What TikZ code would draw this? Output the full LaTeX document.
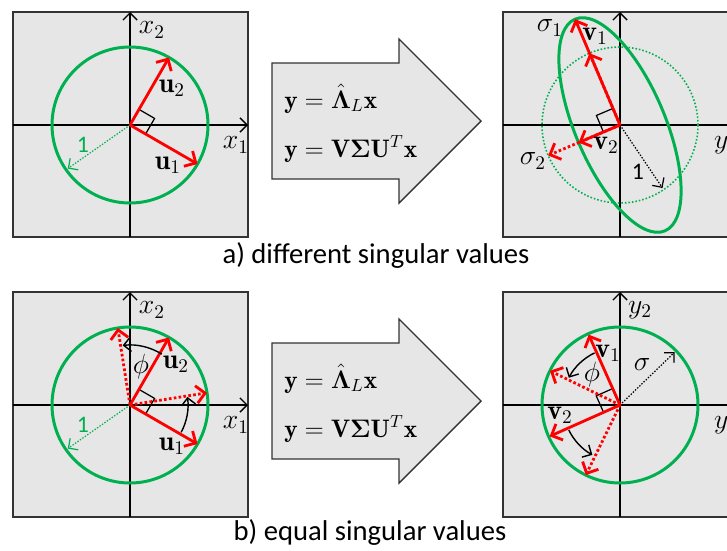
\documentclass[tikz,border=0pt]{standalone}
\usepackage{amsmath}
\usepackage{fontspec}
\usepackage{tikz}
\usetikzlibrary{arrows.meta}
\newfontfamily\capfont{Carlito}
\definecolor{Frame}{HTML}{333333}
\definecolor{Pane}{HTML}{E6E6E6}
\definecolor{Grn}{HTML}{00B050}
\definecolor{Rd}{HTML}{FF0000}
\tikzset{
  panel/.style={draw=Frame,fill=Pane,line width=1.1pt},
  axis/.style={-{Straight Barb[length=4pt,width=8pt]},draw=black,line width=0.8pt},
  ring/.style={draw=Grn,line width=1.7pt},
  ringdot/.style={draw=Grn,line width=0.9pt,dash pattern=on 0.9pt off 1.1pt},
  vec/.style={-{Straight Barb[length=5pt,width=10pt]},draw=Rd,line width=1.6pt},
  vecdot/.style={vec,dash pattern=on 1.5pt off 1.3pt},
  unitvec/.style={-{Straight Barb[length=4pt,width=8pt]},line width=0.7pt,dash pattern=on 0.8pt off 0.9pt},
  turn/.style={-{Straight Barb[length=4pt,width=8pt]},draw=black,line width=0.8pt},
  rightang/.style={draw=black,line width=0.7pt},
  lbl/.style={inner sep=0pt,font=\Large,scale=1.1,transform shape},
  numlbl/.style={inner sep=0pt,font=\capfont\fontsize{13.5}{15}\selectfont},
  bigarrow/.style={draw=Frame,fill=Pane,line width=0.8pt},
  eq/.style={anchor=base west,inner sep=0pt,font=\Large},
  caption/.style={font=\capfont\fontsize{16.3}{19}\selectfont}
}
\begin{document}
\begin{tikzpicture}[x=0.02cm,y=0.02cm]
\useasboundingbox (0,0) rectangle (727,-551);
\clip (0,0) rectangle (727,-551);
% frames and axes
\foreach \ox/\oy in {130/-125,620/-125,130/-405,620/-405}{
  \filldraw[panel] (\ox-117,\oy+113) rectangle (\ox+118,\oy-112);
  \draw[axis] (\ox-117,\oy) -- (\ox+118,\oy);
  \draw[axis] (\ox,\oy-112) -- (\ox,\oy+113);
}
% mapping arrows
\foreach \oy/\nm in {0/a,-280/b}{
  \begin{scope}[shift={(0,\oy)}]
    \filldraw[bigarrow] (272,-63) -- (399,-63) -- (399,-39) -- (481,-121)
      -- (399,-203) -- (399,-179) -- (272,-179) -- cycle;
    \node[eq] (eqone\nm) at (284,-108) {$\mathbf{y}=\hat{\boldsymbol{\Lambda}}_{L}\mathbf{x}$};
    \node[eq] (eqtwo\nm) at (284,-157) {$\mathbf{y}=\mathbf{V}\boldsymbol{\Sigma}\mathbf{U}^{T}\mathbf{x}$};
  \end{scope}
}
% a) input circle
\begin{scope}[shift={(130,-125)}]
  \draw[ring] (0,0) circle[radius=78];
  \draw[unitvec,draw=Grn] (0,0) -- (215:76);
  \node[numlbl,text=Grn] (onea) at (-47,-20) {1};
  \draw[rightang] (-30:18) -- ++(60:18) -- (60:18);
  \draw[vec] (0,0) -- (60:78);
  \draw[vec] (0,0) -- (-30:78);
  \node[lbl] (xtwoa) at (22,95) {$x_2$};
  \node[lbl] (xonea) at (106,-20) {$x_1$};
  \node[lbl] (utwoa) at (42,37) {$\mathbf{u}_2$};
  \node[lbl] (uonea) at (38,-40) {$\mathbf{u}_1$};
\end{scope}
% a) output ellipse
\begin{scope}[shift={(620,-125)}]
  \draw[ringdot] (0,0) circle[radius=78];
  \draw[ring,rotate=113] (0,0) ellipse[x radius=115,y radius=45];
  \draw[unitvec] (0,0) -- (-56:76);
  \node[numlbl] (oneb) at (18,-47) {1};
  \draw[rightang] (113:18) -- ++(203:18) -- (203:18);
  \draw[vecdot] (0,0) -- (113:78);
  \draw[vecdot] (0,0) -- (203:78);
  \draw[vec] (0,0) -- (113:115);
  \draw[vec] (0,0) -- (203:45);
  \node[lbl] (sigonea) at (-70,97) {$\sigma_1$};
  \node[lbl] (vonea) at (-25,89) {$\mathbf{v}_1$};
  \node[lbl] (vtwoa) at (-14,-20) {$\mathbf{v}_2$};
  \node[lbl] (sigtwoa) at (-87,-36) {$\sigma_2$};
  \node[lbl] (yonea) at (106,-20) {$y_1$};
\end{scope}
% b) input circle, rotated basis
\begin{scope}[shift={(130,-405)}]
  \draw[ring] (0,0) circle[radius=78];
  \draw[unitvec,draw=Grn] (0,0) -- (215:76);
  \node[numlbl,text=Grn] (onec) at (-47,-20) {1};
  \draw[rightang] (-30:18) -- ++(60:18) -- (60:18);
  \draw[vecdot] (0,0) -- (99:78);
  \draw[vecdot] (0,0) -- (9:78);
  \draw[vec] (0,0) -- (60:78);
  \draw[vec] (0,0) -- (-30:78);
  \draw[turn] (58:60) arc[start angle=58,end angle=97,radius=60];
  \draw[turn] (-28:58) arc[start angle=-28,end angle=8,radius=58];
  \node[lbl] (xtwob) at (22,95) {$x_2$};
  \node[lbl] (xoneb) at (106,-20) {$x_1$};
  \node[lbl] (utwob) at (46,41) {$\mathbf{u}_2$};
  \node[lbl] (uoneb) at (42,-41) {$\mathbf{u}_1$};
  \node[lbl] (phib) at (11,38) {$\phi$};
\end{scope}
% b) output circle
\begin{scope}[shift={(620,-405)}]
  \draw[ring] (0,0) circle[radius=78];
  \draw[unitvec] (0,0) -- (44:76);
  \draw[rightang] (114:18) -- ++(204:18) -- (204:18);
  \draw[vecdot] (0,0) -- (154:78);
  \draw[vecdot] (0,0) -- (244:78);
  \draw[vec] (0,0) -- (114:77);
  \draw[vec] (0,0) -- (204:77);
  \draw[turn] (116:58) arc[start angle=116,end angle=152,radius=58];
  \draw[turn] (206:57) arc[start angle=206,end angle=241,radius=57];
  \node[lbl] (ytwob) at (20,95) {$y_2$};
  \node[lbl] (yoneb) at (106,-20) {$y_1$};
  \node[lbl] (voneb) at (-12,52) {$\mathbf{v}_1$};
  \node[lbl] (sigb) at (22,40) {$\sigma$};
  \node[lbl] (phid) at (-28,30) {$\phi$};
  \node[lbl] (vtwob) at (-60,-10) {$\mathbf{v}_2$};
\end{scope}
\node[caption] (capa) at (376,-255) {a) different singular values};
\node[caption] (capb) at (370,-532) {b) equal singular values};
\end{tikzpicture}
\end{document}
